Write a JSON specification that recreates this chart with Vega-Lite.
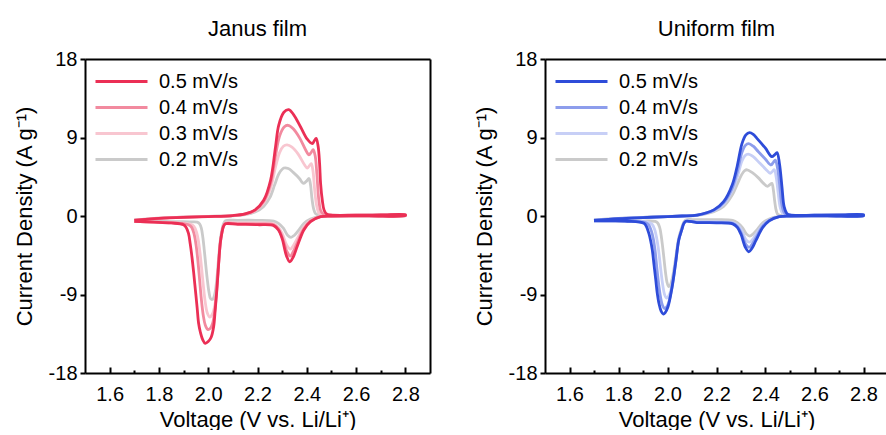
{
"$schema":"https://vega.github.io/schema/vega-lite/v6.json",
"padding":{"left":13,"top":18,"right":0,"bottom":0},
"spacing":43,
"config":{
 "view":{"stroke":null},
 "font":"Liberation Sans",
 "axis":{"domainColor":"black","domainWidth":2,"tickColor":"black","tickWidth":2,"labelColor":"black","labelFont":"Liberation Sans","labelFontSize":20,"titleFont":"Liberation Sans","titleFontSize":22,"titleFontWeight":"normal","titleColor":"black","grid":false,"labelFlush":false,"labelOverlap":false},
 "title":{"font":"Liberation Sans","fontSize":22,"fontWeight":"normal","color":"black","anchor":"middle","frame":"group","offset":8},
 "legend":{"orient":"top-left","offset":11,"padding":0,"title":null,"symbolType":"M-1.2,0H4.0","symbolSize":400,"symbolStrokeWidth":3,"labelFontSize":20,"labelFont":"Liberation Sans","labelColor":"black","rowPadding":4,"labelOffset":40}
},
"data":{"values":[
{"p":"J","r":"0.2 mV/s","k":0,"v":1.70,"i":-0.45},{"p":"J","r":"0.2 mV/s","k":1,"v":1.80,"i":-0.25},{"p":"J","r":"0.2 mV/s","k":2,"v":1.90,"i":-0.12},{"p":"J","r":"0.2 mV/s","k":3,"v":2.00,"i":-0.05},{"p":"J","r":"0.2 mV/s","k":4,"v":2.10,"i":0.03},{"p":"J","r":"0.2 mV/s","k":5,"v":2.15,"i":0.15},{"p":"J","r":"0.2 mV/s","k":6,"v":2.19,"i":0.45},{"p":"J","r":"0.2 mV/s","k":7,"v":2.225,"i":1.1},{"p":"J","r":"0.2 mV/s","k":8,"v":2.25,"i":2.1},{"p":"J","r":"0.2 mV/s","k":9,"v":2.27,"i":3.6},{"p":"J","r":"0.2 mV/s","k":10,"v":2.288,"i":4.9},{"p":"J","r":"0.2 mV/s","k":11,"v":2.307,"i":5.5},{"p":"J","r":"0.2 mV/s","k":12,"v":2.325,"i":5.45},{"p":"J","r":"0.2 mV/s","k":13,"v":2.345,"i":5.0},{"p":"J","r":"0.2 mV/s","k":14,"v":2.37,"i":4.3},{"p":"J","r":"0.2 mV/s","k":15,"v":2.38,"i":3.9},{"p":"J","r":"0.2 mV/s","k":16,"v":2.388,"i":3.75},{"p":"J","r":"0.2 mV/s","k":17,"v":2.399,"i":4.0},{"p":"J","r":"0.2 mV/s","k":18,"v":2.409,"i":4.3},{"p":"J","r":"0.2 mV/s","k":19,"v":2.415,"i":3.6},{"p":"J","r":"0.2 mV/s","k":20,"v":2.421,"i":2.0},{"p":"J","r":"0.2 mV/s","k":21,"v":2.428,"i":0.8},{"p":"J","r":"0.2 mV/s","k":22,"v":2.436,"i":0.25},{"p":"J","r":"0.2 mV/s","k":23,"v":2.45,"i":0.1},{"p":"J","r":"0.2 mV/s","k":24,"v":2.6,"i":0.08},{"p":"J","r":"0.2 mV/s","k":25,"v":2.7,"i":0.1},{"p":"J","r":"0.2 mV/s","k":26,"v":2.8,"i":0.12},
{"p":"J","r":"0.2 mV/s","k":27,"v":2.8,"i":0.04},{"p":"J","r":"0.2 mV/s","k":28,"v":2.65,"i":0.02},{"p":"J","r":"0.2 mV/s","k":29,"v":2.5,"i":0.0},{"p":"J","r":"0.2 mV/s","k":30,"v":2.456,"i":-0.05},{"p":"J","r":"0.2 mV/s","k":31,"v":2.415,"i":-0.35},{"p":"J","r":"0.2 mV/s","k":32,"v":2.388,"i":-0.85},{"p":"J","r":"0.2 mV/s","k":33,"v":2.365,"i":-1.7},{"p":"J","r":"0.2 mV/s","k":34,"v":2.35,"i":-2.2},{"p":"J","r":"0.2 mV/s","k":35,"v":2.336,"i":-2.45},{"p":"J","r":"0.2 mV/s","k":36,"v":2.322,"i":-2.2},{"p":"J","r":"0.2 mV/s","k":37,"v":2.305,"i":-1.4},{"p":"J","r":"0.2 mV/s","k":38,"v":2.285,"i":-0.85},{"p":"J","r":"0.2 mV/s","k":39,"v":2.266,"i":-0.6},{"p":"J","r":"0.2 mV/s","k":40,"v":2.2,"i":-0.5},{"p":"J","r":"0.2 mV/s","k":41,"v":2.12,"i":-0.5},{"p":"J","r":"0.2 mV/s","k":42,"v":2.07,"i":-0.55},{"p":"J","r":"0.2 mV/s","k":43,"v":2.062,"i":-0.9},{"p":"J","r":"0.2 mV/s","k":44,"v":2.055,"i":-1.7},{"p":"J","r":"0.2 mV/s","k":45,"v":2.049,"i":-2.8},{"p":"J","r":"0.2 mV/s","k":46,"v":2.042,"i":-4.9},{"p":"J","r":"0.2 mV/s","k":47,"v":2.035,"i":-7.2},{"p":"J","r":"0.2 mV/s","k":48,"v":2.027,"i":-8.9},{"p":"J","r":"0.2 mV/s","k":49,"v":2.018,"i":-9.55},{"p":"J","r":"0.2 mV/s","k":50,"v":2.010,"i":-9.5},{"p":"J","r":"0.2 mV/s","k":51,"v":2.003,"i":-8.7},{"p":"J","r":"0.2 mV/s","k":52,"v":1.996,"i":-7.2},{"p":"J","r":"0.2 mV/s","k":53,"v":1.99,"i":-5.6},{"p":"J","r":"0.2 mV/s","k":54,"v":1.984,"i":-3.9},{"p":"J","r":"0.2 mV/s","k":55,"v":1.978,"i":-2.4},{"p":"J","r":"0.2 mV/s","k":56,"v":1.972,"i":-1.4},{"p":"J","r":"0.2 mV/s","k":57,"v":1.965,"i":-0.9},{"p":"J","r":"0.2 mV/s","k":58,"v":1.955,"i":-0.7},{"p":"J","r":"0.2 mV/s","k":59,"v":1.93,"i":-0.68},{"p":"J","r":"0.2 mV/s","k":60,"v":1.90,"i":-0.66},{"p":"J","r":"0.2 mV/s","k":61,"v":1.85,"i":-0.64},{"p":"J","r":"0.2 mV/s","k":62,"v":1.78,"i":-0.6},{"p":"J","r":"0.2 mV/s","k":63,"v":1.70,"i":-0.56},

{"p":"J","r":"0.3 mV/s","k":0,"v":1.70,"i":-0.47},{"p":"J","r":"0.3 mV/s","k":1,"v":1.80,"i":-0.26},{"p":"J","r":"0.3 mV/s","k":2,"v":1.90,"i":-0.13},{"p":"J","r":"0.3 mV/s","k":3,"v":2.00,"i":-0.05},{"p":"J","r":"0.3 mV/s","k":4,"v":2.10,"i":0.05},{"p":"J","r":"0.3 mV/s","k":5,"v":2.15,"i":0.22},{"p":"J","r":"0.3 mV/s","k":6,"v":2.19,"i":0.6},{"p":"J","r":"0.3 mV/s","k":7,"v":2.225,"i":1.5},{"p":"J","r":"0.3 mV/s","k":8,"v":2.253,"i":3.2},{"p":"J","r":"0.3 mV/s","k":9,"v":2.273,"i":5.6},{"p":"J","r":"0.3 mV/s","k":10,"v":2.29,"i":7.3},{"p":"J","r":"0.3 mV/s","k":11,"v":2.305,"i":8.0},{"p":"J","r":"0.3 mV/s","k":12,"v":2.32,"i":8.15},{"p":"J","r":"0.3 mV/s","k":13,"v":2.34,"i":7.9},{"p":"J","r":"0.3 mV/s","k":14,"v":2.365,"i":7.1},{"p":"J","r":"0.3 mV/s","k":15,"v":2.39,"i":5.9},{"p":"J","r":"0.3 mV/s","k":16,"v":2.402,"i":5.5},{"p":"J","r":"0.3 mV/s","k":17,"v":2.41,"i":5.75},{"p":"J","r":"0.3 mV/s","k":18,"v":2.418,"i":6.0},{"p":"J","r":"0.3 mV/s","k":19,"v":2.425,"i":5.2},{"p":"J","r":"0.3 mV/s","k":20,"v":2.432,"i":3.0},{"p":"J","r":"0.3 mV/s","k":21,"v":2.44,"i":1.2},{"p":"J","r":"0.3 mV/s","k":22,"v":2.45,"i":0.3},{"p":"J","r":"0.3 mV/s","k":23,"v":2.466,"i":0.12},{"p":"J","r":"0.3 mV/s","k":24,"v":2.6,"i":0.1},{"p":"J","r":"0.3 mV/s","k":25,"v":2.7,"i":0.11},{"p":"J","r":"0.3 mV/s","k":26,"v":2.8,"i":0.13},
{"p":"J","r":"0.3 mV/s","k":27,"v":2.8,"i":0.04},{"p":"J","r":"0.3 mV/s","k":28,"v":2.65,"i":0.02},{"p":"J","r":"0.3 mV/s","k":29,"v":2.5,"i":0.0},{"p":"J","r":"0.3 mV/s","k":30,"v":2.456,"i":-0.07},{"p":"J","r":"0.3 mV/s","k":31,"v":2.415,"i":-0.5},{"p":"J","r":"0.3 mV/s","k":32,"v":2.388,"i":-1.25},{"p":"J","r":"0.3 mV/s","k":33,"v":2.361,"i":-2.6},{"p":"J","r":"0.3 mV/s","k":34,"v":2.345,"i":-3.4},{"p":"J","r":"0.3 mV/s","k":35,"v":2.334,"i":-3.8},{"p":"J","r":"0.3 mV/s","k":36,"v":2.32,"i":-3.4},{"p":"J","r":"0.3 mV/s","k":37,"v":2.30,"i":-2.0},{"p":"J","r":"0.3 mV/s","k":38,"v":2.285,"i":-1.3},{"p":"J","r":"0.3 mV/s","k":39,"v":2.266,"i":-0.9},{"p":"J","r":"0.3 mV/s","k":40,"v":2.2,"i":-0.8},{"p":"J","r":"0.3 mV/s","k":41,"v":2.12,"i":-0.8},{"p":"J","r":"0.3 mV/s","k":42,"v":2.07,"i":-0.8},{"p":"J","r":"0.3 mV/s","k":43,"v":2.062,"i":-1.1},{"p":"J","r":"0.3 mV/s","k":44,"v":2.055,"i":-2.0},{"p":"J","r":"0.3 mV/s","k":45,"v":2.049,"i":-3.1},{"p":"J","r":"0.3 mV/s","k":46,"v":2.042,"i":-5.5},{"p":"J","r":"0.3 mV/s","k":47,"v":2.035,"i":-8.0},{"p":"J","r":"0.3 mV/s","k":48,"v":2.027,"i":-10.2},{"p":"J","r":"0.3 mV/s","k":49,"v":2.016,"i":-11.3},{"p":"J","r":"0.3 mV/s","k":50,"v":2.006,"i":-11.6},{"p":"J","r":"0.3 mV/s","k":51,"v":1.996,"i":-11.1},{"p":"J","r":"0.3 mV/s","k":52,"v":1.988,"i":-9.9},{"p":"J","r":"0.3 mV/s","k":53,"v":1.981,"i":-8.2},{"p":"J","r":"0.3 mV/s","k":54,"v":1.974,"i":-6.2},{"p":"J","r":"0.3 mV/s","k":55,"v":1.967,"i":-4.3},{"p":"J","r":"0.3 mV/s","k":56,"v":1.96,"i":-2.8},{"p":"J","r":"0.3 mV/s","k":57,"v":1.952,"i":-1.8},{"p":"J","r":"0.3 mV/s","k":58,"v":1.942,"i":-1.2},{"p":"J","r":"0.3 mV/s","k":59,"v":1.93,"i":-0.95},{"p":"J","r":"0.3 mV/s","k":60,"v":1.90,"i":-0.82},{"p":"J","r":"0.3 mV/s","k":61,"v":1.85,"i":-0.74},{"p":"J","r":"0.3 mV/s","k":62,"v":1.78,"i":-0.68},{"p":"J","r":"0.3 mV/s","k":63,"v":1.70,"i":-0.6},

{"p":"J","r":"0.4 mV/s","k":0,"v":1.70,"i":-0.48},{"p":"J","r":"0.4 mV/s","k":1,"v":1.80,"i":-0.27},{"p":"J","r":"0.4 mV/s","k":2,"v":1.90,"i":-0.14},{"p":"J","r":"0.4 mV/s","k":3,"v":2.00,"i":-0.06},{"p":"J","r":"0.4 mV/s","k":4,"v":2.10,"i":0.05},{"p":"J","r":"0.4 mV/s","k":5,"v":2.15,"i":0.24},{"p":"J","r":"0.4 mV/s","k":6,"v":2.19,"i":0.65},{"p":"J","r":"0.4 mV/s","k":7,"v":2.225,"i":1.65},{"p":"J","r":"0.4 mV/s","k":8,"v":2.253,"i":3.7},{"p":"J","r":"0.4 mV/s","k":9,"v":2.273,"i":6.9},{"p":"J","r":"0.4 mV/s","k":10,"v":2.29,"i":9.2},{"p":"J","r":"0.4 mV/s","k":11,"v":2.308,"i":10.2},{"p":"J","r":"0.4 mV/s","k":12,"v":2.324,"i":10.4},{"p":"J","r":"0.4 mV/s","k":13,"v":2.345,"i":10.0},{"p":"J","r":"0.4 mV/s","k":14,"v":2.372,"i":8.9},{"p":"J","r":"0.4 mV/s","k":15,"v":2.395,"i":7.6},{"p":"J","r":"0.4 mV/s","k":16,"v":2.409,"i":7.0},{"p":"J","r":"0.4 mV/s","k":17,"v":2.418,"i":7.3},{"p":"J","r":"0.4 mV/s","k":18,"v":2.426,"i":7.6},{"p":"J","r":"0.4 mV/s","k":19,"v":2.434,"i":6.9},{"p":"J","r":"0.4 mV/s","k":20,"v":2.441,"i":4.8},{"p":"J","r":"0.4 mV/s","k":21,"v":2.449,"i":1.8},{"p":"J","r":"0.4 mV/s","k":22,"v":2.458,"i":0.5},{"p":"J","r":"0.4 mV/s","k":23,"v":2.472,"i":0.15},{"p":"J","r":"0.4 mV/s","k":24,"v":2.6,"i":0.1},{"p":"J","r":"0.4 mV/s","k":25,"v":2.7,"i":0.12},{"p":"J","r":"0.4 mV/s","k":26,"v":2.8,"i":0.14},
{"p":"J","r":"0.4 mV/s","k":27,"v":2.8,"i":0.05},{"p":"J","r":"0.4 mV/s","k":28,"v":2.65,"i":0.02},{"p":"J","r":"0.4 mV/s","k":29,"v":2.5,"i":0.0},{"p":"J","r":"0.4 mV/s","k":30,"v":2.456,"i":-0.08},{"p":"J","r":"0.4 mV/s","k":31,"v":2.415,"i":-0.6},{"p":"J","r":"0.4 mV/s","k":32,"v":2.388,"i":-1.45},{"p":"J","r":"0.4 mV/s","k":33,"v":2.361,"i":-3.1},{"p":"J","r":"0.4 mV/s","k":34,"v":2.345,"i":-4.1},{"p":"J","r":"0.4 mV/s","k":35,"v":2.333,"i":-4.6},{"p":"J","r":"0.4 mV/s","k":36,"v":2.32,"i":-4.1},{"p":"J","r":"0.4 mV/s","k":37,"v":2.30,"i":-2.4},{"p":"J","r":"0.4 mV/s","k":38,"v":2.285,"i":-1.5},{"p":"J","r":"0.4 mV/s","k":39,"v":2.266,"i":-1.0},{"p":"J","r":"0.4 mV/s","k":40,"v":2.2,"i":-0.9},{"p":"J","r":"0.4 mV/s","k":41,"v":2.12,"i":-0.88},{"p":"J","r":"0.4 mV/s","k":42,"v":2.07,"i":-0.85},{"p":"J","r":"0.4 mV/s","k":43,"v":2.062,"i":-1.15},{"p":"J","r":"0.4 mV/s","k":44,"v":2.055,"i":-2.0},{"p":"J","r":"0.4 mV/s","k":45,"v":2.049,"i":-3.1},{"p":"J","r":"0.4 mV/s","k":46,"v":2.042,"i":-5.6},{"p":"J","r":"0.4 mV/s","k":47,"v":2.035,"i":-8.3},{"p":"J","r":"0.4 mV/s","k":48,"v":2.027,"i":-10.8},{"p":"J","r":"0.4 mV/s","k":49,"v":2.018,"i":-12.3},{"p":"J","r":"0.4 mV/s","k":50,"v":2.008,"i":-12.9},{"p":"J","r":"0.4 mV/s","k":51,"v":1.998,"i":-13.0},{"p":"J","r":"0.4 mV/s","k":52,"v":1.988,"i":-12.5},{"p":"J","r":"0.4 mV/s","k":53,"v":1.98,"i":-11.4},{"p":"J","r":"0.4 mV/s","k":54,"v":1.972,"i":-9.5},{"p":"J","r":"0.4 mV/s","k":55,"v":1.965,"i":-7.3},{"p":"J","r":"0.4 mV/s","k":56,"v":1.958,"i":-5.1},{"p":"J","r":"0.4 mV/s","k":57,"v":1.951,"i":-3.4},{"p":"J","r":"0.4 mV/s","k":58,"v":1.943,"i":-2.1},{"p":"J","r":"0.4 mV/s","k":59,"v":1.933,"i":-1.3},{"p":"J","r":"0.4 mV/s","k":60,"v":1.92,"i":-1.0},{"p":"J","r":"0.4 mV/s","k":61,"v":1.90,"i":-0.88},{"p":"J","r":"0.4 mV/s","k":62,"v":1.85,"i":-0.78},{"p":"J","r":"0.4 mV/s","k":63,"v":1.78,"i":-0.7},{"p":"J","r":"0.4 mV/s","k":64,"v":1.70,"i":-0.62},

{"p":"J","r":"0.5 mV/s","k":0,"v":1.70,"i":-0.5},{"p":"J","r":"0.5 mV/s","k":1,"v":1.80,"i":-0.28},{"p":"J","r":"0.5 mV/s","k":2,"v":1.90,"i":-0.15},{"p":"J","r":"0.5 mV/s","k":3,"v":2.00,"i":-0.07},{"p":"J","r":"0.5 mV/s","k":4,"v":2.10,"i":0.05},{"p":"J","r":"0.5 mV/s","k":5,"v":2.15,"i":0.25},{"p":"J","r":"0.5 mV/s","k":6,"v":2.19,"i":0.7},{"p":"J","r":"0.5 mV/s","k":7,"v":2.225,"i":1.8},{"p":"J","r":"0.5 mV/s","k":8,"v":2.253,"i":4.1},{"p":"J","r":"0.5 mV/s","k":9,"v":2.273,"i":7.9},{"p":"J","r":"0.5 mV/s","k":10,"v":2.286,"i":10.4},{"p":"J","r":"0.5 mV/s","k":11,"v":2.307,"i":11.9},{"p":"J","r":"0.5 mV/s","k":12,"v":2.327,"i":12.2},{"p":"J","r":"0.5 mV/s","k":13,"v":2.347,"i":11.6},{"p":"J","r":"0.5 mV/s","k":14,"v":2.375,"i":10.2},{"p":"J","r":"0.5 mV/s","k":15,"v":2.402,"i":8.8},{"p":"J","r":"0.5 mV/s","k":16,"v":2.422,"i":8.3},{"p":"J","r":"0.5 mV/s","k":17,"v":2.43,"i":8.6},{"p":"J","r":"0.5 mV/s","k":18,"v":2.438,"i":8.9},{"p":"J","r":"0.5 mV/s","k":19,"v":2.446,"i":8.0},{"p":"J","r":"0.5 mV/s","k":20,"v":2.452,"i":6.0},{"p":"J","r":"0.5 mV/s","k":21,"v":2.456,"i":3.75},{"p":"J","r":"0.5 mV/s","k":22,"v":2.463,"i":1.8},{"p":"J","r":"0.5 mV/s","k":23,"v":2.47,"i":0.7},{"p":"J","r":"0.5 mV/s","k":24,"v":2.48,"i":0.25},{"p":"J","r":"0.5 mV/s","k":25,"v":2.497,"i":0.12},{"p":"J","r":"0.5 mV/s","k":26,"v":2.6,"i":0.1},{"p":"J","r":"0.5 mV/s","k":27,"v":2.7,"i":0.12},{"p":"J","r":"0.5 mV/s","k":28,"v":2.8,"i":0.15},
{"p":"J","r":"0.5 mV/s","k":29,"v":2.8,"i":0.05},{"p":"J","r":"0.5 mV/s","k":30,"v":2.65,"i":0.02},{"p":"J","r":"0.5 mV/s","k":31,"v":2.5,"i":0.0},{"p":"J","r":"0.5 mV/s","k":32,"v":2.456,"i":-0.08},{"p":"J","r":"0.5 mV/s","k":33,"v":2.415,"i":-0.65},{"p":"J","r":"0.5 mV/s","k":34,"v":2.388,"i":-1.6},{"p":"J","r":"0.5 mV/s","k":35,"v":2.361,"i":-3.5},{"p":"J","r":"0.5 mV/s","k":36,"v":2.345,"i":-4.7},{"p":"J","r":"0.5 mV/s","k":37,"v":2.331,"i":-5.25},{"p":"J","r":"0.5 mV/s","k":38,"v":2.318,"i":-4.6},{"p":"J","r":"0.5 mV/s","k":39,"v":2.30,"i":-2.6},{"p":"J","r":"0.5 mV/s","k":40,"v":2.285,"i":-1.6},{"p":"J","r":"0.5 mV/s","k":41,"v":2.266,"i":-1.1},{"p":"J","r":"0.5 mV/s","k":42,"v":2.2,"i":-1.0},{"p":"J","r":"0.5 mV/s","k":43,"v":2.12,"i":-0.95},{"p":"J","r":"0.5 mV/s","k":44,"v":2.07,"i":-0.9},{"p":"J","r":"0.5 mV/s","k":45,"v":2.062,"i":-1.2},{"p":"J","r":"0.5 mV/s","k":46,"v":2.055,"i":-2.0},{"p":"J","r":"0.5 mV/s","k":47,"v":2.049,"i":-3.1},{"p":"J","r":"0.5 mV/s","k":48,"v":2.042,"i":-5.6},{"p":"J","r":"0.5 mV/s","k":49,"v":2.035,"i":-8.5},{"p":"J","r":"0.5 mV/s","k":50,"v":2.028,"i":-10.9},{"p":"J","r":"0.5 mV/s","k":51,"v":2.022,"i":-12.7},{"p":"J","r":"0.5 mV/s","k":52,"v":2.012,"i":-13.9},{"p":"J","r":"0.5 mV/s","k":53,"v":2.0,"i":-14.4},{"p":"J","r":"0.5 mV/s","k":54,"v":1.988,"i":-14.6},{"p":"J","r":"0.5 mV/s","k":55,"v":1.978,"i":-14.2},{"p":"J","r":"0.5 mV/s","k":56,"v":1.968,"i":-13.3},{"p":"J","r":"0.5 mV/s","k":57,"v":1.961,"i":-12.3},{"p":"J","r":"0.5 mV/s","k":58,"v":1.955,"i":-10.5},{"p":"J","r":"0.5 mV/s","k":59,"v":1.948,"i":-8.5},{"p":"J","r":"0.5 mV/s","k":60,"v":1.941,"i":-6.5},{"p":"J","r":"0.5 mV/s","k":61,"v":1.934,"i":-4.7},{"p":"J","r":"0.5 mV/s","k":62,"v":1.927,"i":-3.2},{"p":"J","r":"0.5 mV/s","k":63,"v":1.92,"i":-2.0},{"p":"J","r":"0.5 mV/s","k":64,"v":1.91,"i":-1.3},{"p":"J","r":"0.5 mV/s","k":65,"v":1.90,"i":-1.0},{"p":"J","r":"0.5 mV/s","k":66,"v":1.85,"i":-0.8},{"p":"J","r":"0.5 mV/s","k":67,"v":1.78,"i":-0.7},{"p":"J","r":"0.5 mV/s","k":68,"v":1.70,"i":-0.62},

{"p":"U","r":"0.2 mV/s","k":0,"v":1.70,"i":-0.45},{"p":"U","r":"0.2 mV/s","k":1,"v":1.80,"i":-0.27},{"p":"U","r":"0.2 mV/s","k":2,"v":1.90,"i":-0.15},{"p":"U","r":"0.2 mV/s","k":3,"v":2.00,"i":-0.06},{"p":"U","r":"0.2 mV/s","k":4,"v":2.06,"i":0.0},{"p":"U","r":"0.2 mV/s","k":5,"v":2.121,"i":0.08},{"p":"U","r":"0.2 mV/s","k":6,"v":2.189,"i":0.5},{"p":"U","r":"0.2 mV/s","k":7,"v":2.229,"i":1.1},{"p":"U","r":"0.2 mV/s","k":8,"v":2.264,"i":2.4},{"p":"U","r":"0.2 mV/s","k":9,"v":2.284,"i":3.6},{"p":"U","r":"0.2 mV/s","k":10,"v":2.304,"i":4.8},{"p":"U","r":"0.2 mV/s","k":11,"v":2.315,"i":5.2},{"p":"U","r":"0.2 mV/s","k":12,"v":2.325,"i":5.3},{"p":"U","r":"0.2 mV/s","k":13,"v":2.345,"i":5.0},{"p":"U","r":"0.2 mV/s","k":14,"v":2.37,"i":4.4},{"p":"U","r":"0.2 mV/s","k":15,"v":2.39,"i":3.8},{"p":"U","r":"0.2 mV/s","k":16,"v":2.408,"i":3.4},{"p":"U","r":"0.2 mV/s","k":17,"v":2.418,"i":3.6},{"p":"U","r":"0.2 mV/s","k":18,"v":2.426,"i":3.75},{"p":"U","r":"0.2 mV/s","k":19,"v":2.432,"i":3.0},{"p":"U","r":"0.2 mV/s","k":20,"v":2.438,"i":1.6},{"p":"U","r":"0.2 mV/s","k":21,"v":2.444,"i":0.6},{"p":"U","r":"0.2 mV/s","k":22,"v":2.452,"i":0.15},{"p":"U","r":"0.2 mV/s","k":23,"v":2.5,"i":0.08},{"p":"U","r":"0.2 mV/s","k":24,"v":2.6,"i":0.08},{"p":"U","r":"0.2 mV/s","k":25,"v":2.7,"i":0.09},{"p":"U","r":"0.2 mV/s","k":26,"v":2.8,"i":0.11},
{"p":"U","r":"0.2 mV/s","k":27,"v":2.8,"i":0.04},{"p":"U","r":"0.2 mV/s","k":28,"v":2.65,"i":0.02},{"p":"U","r":"0.2 mV/s","k":29,"v":2.5,"i":0.0},{"p":"U","r":"0.2 mV/s","k":30,"v":2.456,"i":-0.05},{"p":"U","r":"0.2 mV/s","k":31,"v":2.415,"i":-0.35},{"p":"U","r":"0.2 mV/s","k":32,"v":2.388,"i":-0.8},{"p":"U","r":"0.2 mV/s","k":33,"v":2.365,"i":-1.6},{"p":"U","r":"0.2 mV/s","k":34,"v":2.35,"i":-2.05},{"p":"U","r":"0.2 mV/s","k":35,"v":2.336,"i":-2.3},{"p":"U","r":"0.2 mV/s","k":36,"v":2.322,"i":-2.05},{"p":"U","r":"0.2 mV/s","k":37,"v":2.305,"i":-1.3},{"p":"U","r":"0.2 mV/s","k":38,"v":2.285,"i":-0.75},{"p":"U","r":"0.2 mV/s","k":39,"v":2.266,"i":-0.5},{"p":"U","r":"0.2 mV/s","k":40,"v":2.2,"i":-0.42},{"p":"U","r":"0.2 mV/s","k":41,"v":2.12,"i":-0.42},{"p":"U","r":"0.2 mV/s","k":42,"v":2.075,"i":-0.45},{"p":"U","r":"0.2 mV/s","k":43,"v":2.066,"i":-0.75},{"p":"U","r":"0.2 mV/s","k":44,"v":2.058,"i":-1.35},{"p":"U","r":"0.2 mV/s","k":45,"v":2.046,"i":-2.5},{"p":"U","r":"0.2 mV/s","k":46,"v":2.033,"i":-4.9},{"p":"U","r":"0.2 mV/s","k":47,"v":2.02,"i":-7.1},{"p":"U","r":"0.2 mV/s","k":48,"v":2.012,"i":-7.9},{"p":"U","r":"0.2 mV/s","k":49,"v":2.005,"i":-8.1},{"p":"U","r":"0.2 mV/s","k":50,"v":1.998,"i":-7.6},{"p":"U","r":"0.2 mV/s","k":51,"v":1.992,"i":-6.5},{"p":"U","r":"0.2 mV/s","k":52,"v":1.986,"i":-5.0},{"p":"U","r":"0.2 mV/s","k":53,"v":1.98,"i":-3.5},{"p":"U","r":"0.2 mV/s","k":54,"v":1.974,"i":-2.2},{"p":"U","r":"0.2 mV/s","k":55,"v":1.968,"i":-1.3},{"p":"U","r":"0.2 mV/s","k":56,"v":1.96,"i":-0.8},{"p":"U","r":"0.2 mV/s","k":57,"v":1.95,"i":-0.62},{"p":"U","r":"0.2 mV/s","k":58,"v":1.9,"i":-0.58},{"p":"U","r":"0.2 mV/s","k":59,"v":1.85,"i":-0.56},{"p":"U","r":"0.2 mV/s","k":60,"v":1.77,"i":-0.54},{"p":"U","r":"0.2 mV/s","k":61,"v":1.70,"i":-0.52},

{"p":"U","r":"0.3 mV/s","k":0,"v":1.70,"i":-0.47},{"p":"U","r":"0.3 mV/s","k":1,"v":1.80,"i":-0.28},{"p":"U","r":"0.3 mV/s","k":2,"v":1.90,"i":-0.16},{"p":"U","r":"0.3 mV/s","k":3,"v":2.00,"i":-0.07},{"p":"U","r":"0.3 mV/s","k":4,"v":2.06,"i":0.0},{"p":"U","r":"0.3 mV/s","k":5,"v":2.121,"i":0.09},{"p":"U","r":"0.3 mV/s","k":6,"v":2.189,"i":0.6},{"p":"U","r":"0.3 mV/s","k":7,"v":2.229,"i":1.35},{"p":"U","r":"0.3 mV/s","k":8,"v":2.264,"i":2.9},{"p":"U","r":"0.3 mV/s","k":9,"v":2.284,"i":4.4},{"p":"U","r":"0.3 mV/s","k":10,"v":2.304,"i":6.3},{"p":"U","r":"0.3 mV/s","k":11,"v":2.316,"i":6.9},{"p":"U","r":"0.3 mV/s","k":12,"v":2.329,"i":7.1},{"p":"U","r":"0.3 mV/s","k":13,"v":2.35,"i":6.8},{"p":"U","r":"0.3 mV/s","k":14,"v":2.375,"i":6.1},{"p":"U","r":"0.3 mV/s","k":15,"v":2.4,"i":5.4},{"p":"U","r":"0.3 mV/s","k":16,"v":2.419,"i":4.9},{"p":"U","r":"0.3 mV/s","k":17,"v":2.428,"i":5.1},{"p":"U","r":"0.3 mV/s","k":18,"v":2.436,"i":5.3},{"p":"U","r":"0.3 mV/s","k":19,"v":2.444,"i":4.4},{"p":"U","r":"0.3 mV/s","k":20,"v":2.452,"i":2.6},{"p":"U","r":"0.3 mV/s","k":21,"v":2.46,"i":1.0},{"p":"U","r":"0.3 mV/s","k":22,"v":2.47,"i":0.3},{"p":"U","r":"0.3 mV/s","k":23,"v":2.49,"i":0.1},{"p":"U","r":"0.3 mV/s","k":24,"v":2.6,"i":0.09},{"p":"U","r":"0.3 mV/s","k":25,"v":2.7,"i":0.1},{"p":"U","r":"0.3 mV/s","k":26,"v":2.8,"i":0.12},
{"p":"U","r":"0.3 mV/s","k":27,"v":2.8,"i":0.04},{"p":"U","r":"0.3 mV/s","k":28,"v":2.65,"i":0.02},{"p":"U","r":"0.3 mV/s","k":29,"v":2.5,"i":0.0},{"p":"U","r":"0.3 mV/s","k":30,"v":2.456,"i":-0.06},{"p":"U","r":"0.3 mV/s","k":31,"v":2.415,"i":-0.45},{"p":"U","r":"0.3 mV/s","k":32,"v":2.388,"i":-1.05},{"p":"U","r":"0.3 mV/s","k":33,"v":2.361,"i":-2.1},{"p":"U","r":"0.3 mV/s","k":34,"v":2.347,"i":-2.7},{"p":"U","r":"0.3 mV/s","k":35,"v":2.334,"i":-3.0},{"p":"U","r":"0.3 mV/s","k":36,"v":2.32,"i":-2.7},{"p":"U","r":"0.3 mV/s","k":37,"v":2.302,"i":-1.6},{"p":"U","r":"0.3 mV/s","k":38,"v":2.285,"i":-1.0},{"p":"U","r":"0.3 mV/s","k":39,"v":2.266,"i":-0.75},{"p":"U","r":"0.3 mV/s","k":40,"v":2.2,"i":-0.66},{"p":"U","r":"0.3 mV/s","k":41,"v":2.12,"i":-0.65},{"p":"U","r":"0.3 mV/s","k":42,"v":2.075,"i":-0.55},{"p":"U","r":"0.3 mV/s","k":43,"v":2.066,"i":-0.85},{"p":"U","r":"0.3 mV/s","k":44,"v":2.058,"i":-1.5},{"p":"U","r":"0.3 mV/s","k":45,"v":2.046,"i":-2.7},{"p":"U","r":"0.3 mV/s","k":46,"v":2.033,"i":-5.2},{"p":"U","r":"0.3 mV/s","k":47,"v":2.02,"i":-7.6},{"p":"U","r":"0.3 mV/s","k":48,"v":2.008,"i":-9.0},{"p":"U","r":"0.3 mV/s","k":49,"v":1.996,"i":-9.4},{"p":"U","r":"0.3 mV/s","k":50,"v":1.988,"i":-9.0},{"p":"U","r":"0.3 mV/s","k":51,"v":1.981,"i":-8.0},{"p":"U","r":"0.3 mV/s","k":52,"v":1.974,"i":-6.5},{"p":"U","r":"0.3 mV/s","k":53,"v":1.968,"i":-5.0},{"p":"U","r":"0.3 mV/s","k":54,"v":1.962,"i":-3.6},{"p":"U","r":"0.3 mV/s","k":55,"v":1.955,"i":-2.4},{"p":"U","r":"0.3 mV/s","k":56,"v":1.947,"i":-1.5},{"p":"U","r":"0.3 mV/s","k":57,"v":1.937,"i":-0.95},{"p":"U","r":"0.3 mV/s","k":58,"v":1.92,"i":-0.7},{"p":"U","r":"0.3 mV/s","k":59,"v":1.85,"i":-0.58},{"p":"U","r":"0.3 mV/s","k":60,"v":1.77,"i":-0.55},{"p":"U","r":"0.3 mV/s","k":61,"v":1.70,"i":-0.54},

{"p":"U","r":"0.4 mV/s","k":0,"v":1.70,"i":-0.48},{"p":"U","r":"0.4 mV/s","k":1,"v":1.80,"i":-0.29},{"p":"U","r":"0.4 mV/s","k":2,"v":1.90,"i":-0.17},{"p":"U","r":"0.4 mV/s","k":3,"v":2.00,"i":-0.07},{"p":"U","r":"0.4 mV/s","k":4,"v":2.06,"i":0.0},{"p":"U","r":"0.4 mV/s","k":5,"v":2.121,"i":0.1},{"p":"U","r":"0.4 mV/s","k":6,"v":2.189,"i":0.65},{"p":"U","r":"0.4 mV/s","k":7,"v":2.229,"i":1.5},{"p":"U","r":"0.4 mV/s","k":8,"v":2.264,"i":3.2},{"p":"U","r":"0.4 mV/s","k":9,"v":2.284,"i":5.0},{"p":"U","r":"0.4 mV/s","k":10,"v":2.304,"i":7.3},{"p":"U","r":"0.4 mV/s","k":11,"v":2.318,"i":8.1},{"p":"U","r":"0.4 mV/s","k":12,"v":2.331,"i":8.3},{"p":"U","r":"0.4 mV/s","k":13,"v":2.35,"i":8.0},{"p":"U","r":"0.4 mV/s","k":14,"v":2.37,"i":7.4},{"p":"U","r":"0.4 mV/s","k":15,"v":2.4,"i":6.5},{"p":"U","r":"0.4 mV/s","k":16,"v":2.422,"i":5.85},{"p":"U","r":"0.4 mV/s","k":17,"v":2.432,"i":6.15},{"p":"U","r":"0.4 mV/s","k":18,"v":2.44,"i":6.4},{"p":"U","r":"0.4 mV/s","k":19,"v":2.449,"i":5.5},{"p":"U","r":"0.4 mV/s","k":20,"v":2.458,"i":3.5},{"p":"U","r":"0.4 mV/s","k":21,"v":2.466,"i":1.4},{"p":"U","r":"0.4 mV/s","k":22,"v":2.476,"i":0.4},{"p":"U","r":"0.4 mV/s","k":23,"v":2.49,"i":0.12},{"p":"U","r":"0.4 mV/s","k":24,"v":2.6,"i":0.1},{"p":"U","r":"0.4 mV/s","k":25,"v":2.7,"i":0.11},{"p":"U","r":"0.4 mV/s","k":26,"v":2.8,"i":0.13},
{"p":"U","r":"0.4 mV/s","k":27,"v":2.8,"i":0.04},{"p":"U","r":"0.4 mV/s","k":28,"v":2.65,"i":0.02},{"p":"U","r":"0.4 mV/s","k":29,"v":2.5,"i":0.0},{"p":"U","r":"0.4 mV/s","k":30,"v":2.456,"i":-0.07},{"p":"U","r":"0.4 mV/s","k":31,"v":2.415,"i":-0.5},{"p":"U","r":"0.4 mV/s","k":32,"v":2.388,"i":-1.2},{"p":"U","r":"0.4 mV/s","k":33,"v":2.361,"i":-2.5},{"p":"U","r":"0.4 mV/s","k":34,"v":2.345,"i":-3.25},{"p":"U","r":"0.4 mV/s","k":35,"v":2.333,"i":-3.6},{"p":"U","r":"0.4 mV/s","k":36,"v":2.319,"i":-3.2},{"p":"U","r":"0.4 mV/s","k":37,"v":2.30,"i":-1.9},{"p":"U","r":"0.4 mV/s","k":38,"v":2.285,"i":-1.2},{"p":"U","r":"0.4 mV/s","k":39,"v":2.266,"i":-0.85},{"p":"U","r":"0.4 mV/s","k":40,"v":2.2,"i":-0.74},{"p":"U","r":"0.4 mV/s","k":41,"v":2.12,"i":-0.72},{"p":"U","r":"0.4 mV/s","k":42,"v":2.075,"i":-0.6},{"p":"U","r":"0.4 mV/s","k":43,"v":2.066,"i":-0.9},{"p":"U","r":"0.4 mV/s","k":44,"v":2.058,"i":-1.6},{"p":"U","r":"0.4 mV/s","k":45,"v":2.046,"i":-2.75},{"p":"U","r":"0.4 mV/s","k":46,"v":2.033,"i":-5.4},{"p":"U","r":"0.4 mV/s","k":47,"v":2.02,"i":-7.9},{"p":"U","r":"0.4 mV/s","k":48,"v":2.005,"i":-9.9},{"p":"U","r":"0.4 mV/s","k":49,"v":1.995,"i":-10.5},{"p":"U","r":"0.4 mV/s","k":50,"v":1.988,"i":-10.6},{"p":"U","r":"0.4 mV/s","k":51,"v":1.979,"i":-10.2},{"p":"U","r":"0.4 mV/s","k":52,"v":1.971,"i":-9.2},{"p":"U","r":"0.4 mV/s","k":53,"v":1.963,"i":-7.6},{"p":"U","r":"0.4 mV/s","k":54,"v":1.956,"i":-5.8},{"p":"U","r":"0.4 mV/s","k":55,"v":1.949,"i":-3.9},{"p":"U","r":"0.4 mV/s","k":56,"v":1.942,"i":-2.6},{"p":"U","r":"0.4 mV/s","k":57,"v":1.934,"i":-1.7},{"p":"U","r":"0.4 mV/s","k":58,"v":1.924,"i":-1.05},{"p":"U","r":"0.4 mV/s","k":59,"v":1.91,"i":-0.75},{"p":"U","r":"0.4 mV/s","k":60,"v":1.85,"i":-0.6},{"p":"U","r":"0.4 mV/s","k":61,"v":1.77,"i":-0.56},{"p":"U","r":"0.4 mV/s","k":62,"v":1.70,"i":-0.55},

{"p":"U","r":"0.5 mV/s","k":0,"v":1.70,"i":-0.5},{"p":"U","r":"0.5 mV/s","k":1,"v":1.80,"i":-0.3},{"p":"U","r":"0.5 mV/s","k":2,"v":1.90,"i":-0.18},{"p":"U","r":"0.5 mV/s","k":3,"v":2.00,"i":-0.08},{"p":"U","r":"0.5 mV/s","k":4,"v":2.06,"i":0.0},{"p":"U","r":"0.5 mV/s","k":5,"v":2.121,"i":0.1},{"p":"U","r":"0.5 mV/s","k":6,"v":2.189,"i":0.7},{"p":"U","r":"0.5 mV/s","k":7,"v":2.229,"i":1.64},{"p":"U","r":"0.5 mV/s","k":8,"v":2.264,"i":3.55},{"p":"U","r":"0.5 mV/s","k":9,"v":2.284,"i":5.65},{"p":"U","r":"0.5 mV/s","k":10,"v":2.304,"i":8.3},{"p":"U","r":"0.5 mV/s","k":11,"v":2.32,"i":9.3},{"p":"U","r":"0.5 mV/s","k":12,"v":2.335,"i":9.55},{"p":"U","r":"0.5 mV/s","k":13,"v":2.35,"i":9.35},{"p":"U","r":"0.5 mV/s","k":14,"v":2.365,"i":8.9},{"p":"U","r":"0.5 mV/s","k":15,"v":2.399,"i":7.8},{"p":"U","r":"0.5 mV/s","k":16,"v":2.426,"i":6.8},{"p":"U","r":"0.5 mV/s","k":17,"v":2.437,"i":7.0},{"p":"U","r":"0.5 mV/s","k":18,"v":2.447,"i":7.26},{"p":"U","r":"0.5 mV/s","k":19,"v":2.457,"i":6.0},{"p":"U","r":"0.5 mV/s","k":20,"v":2.467,"i":3.4},{"p":"U","r":"0.5 mV/s","k":21,"v":2.476,"i":1.07},{"p":"U","r":"0.5 mV/s","k":22,"v":2.487,"i":0.3},{"p":"U","r":"0.5 mV/s","k":23,"v":2.5,"i":0.12},{"p":"U","r":"0.5 mV/s","k":24,"v":2.6,"i":0.1},{"p":"U","r":"0.5 mV/s","k":25,"v":2.7,"i":0.12},{"p":"U","r":"0.5 mV/s","k":26,"v":2.8,"i":0.14},
{"p":"U","r":"0.5 mV/s","k":27,"v":2.8,"i":0.04},{"p":"U","r":"0.5 mV/s","k":28,"v":2.65,"i":0.02},{"p":"U","r":"0.5 mV/s","k":29,"v":2.5,"i":0.0},{"p":"U","r":"0.5 mV/s","k":30,"v":2.456,"i":-0.07},{"p":"U","r":"0.5 mV/s","k":31,"v":2.415,"i":-0.55},{"p":"U","r":"0.5 mV/s","k":32,"v":2.388,"i":-1.35},{"p":"U","r":"0.5 mV/s","k":33,"v":2.361,"i":-2.8},{"p":"U","r":"0.5 mV/s","k":34,"v":2.345,"i":-3.7},{"p":"U","r":"0.5 mV/s","k":35,"v":2.332,"i":-4.1},{"p":"U","r":"0.5 mV/s","k":36,"v":2.318,"i":-3.6},{"p":"U","r":"0.5 mV/s","k":37,"v":2.30,"i":-2.1},{"p":"U","r":"0.5 mV/s","k":38,"v":2.285,"i":-1.3},{"p":"U","r":"0.5 mV/s","k":39,"v":2.266,"i":-0.9},{"p":"U","r":"0.5 mV/s","k":40,"v":2.2,"i":-0.78},{"p":"U","r":"0.5 mV/s","k":41,"v":2.12,"i":-0.75},{"p":"U","r":"0.5 mV/s","k":42,"v":2.075,"i":-0.6},{"p":"U","r":"0.5 mV/s","k":43,"v":2.066,"i":-0.9},{"p":"U","r":"0.5 mV/s","k":44,"v":2.058,"i":-1.6},{"p":"U","r":"0.5 mV/s","k":45,"v":2.046,"i":-2.75},{"p":"U","r":"0.5 mV/s","k":46,"v":2.033,"i":-5.4},{"p":"U","r":"0.5 mV/s","k":47,"v":2.019,"i":-8.1},{"p":"U","r":"0.5 mV/s","k":48,"v":2.002,"i":-10.4},{"p":"U","r":"0.5 mV/s","k":49,"v":1.99,"i":-11.1},{"p":"U","r":"0.5 mV/s","k":50,"v":1.983,"i":-11.24},{"p":"U","r":"0.5 mV/s","k":51,"v":1.974,"i":-10.9},{"p":"U","r":"0.5 mV/s","k":52,"v":1.965,"i":-10.0},{"p":"U","r":"0.5 mV/s","k":53,"v":1.958,"i":-8.8},{"p":"U","r":"0.5 mV/s","k":54,"v":1.952,"i":-7.3},{"p":"U","r":"0.5 mV/s","k":55,"v":1.945,"i":-5.6},{"p":"U","r":"0.5 mV/s","k":56,"v":1.938,"i":-3.9},{"p":"U","r":"0.5 mV/s","k":57,"v":1.931,"i":-2.8},{"p":"U","r":"0.5 mV/s","k":58,"v":1.924,"i":-2.0},{"p":"U","r":"0.5 mV/s","k":59,"v":1.914,"i":-1.2},{"p":"U","r":"0.5 mV/s","k":60,"v":1.904,"i":-0.84},{"p":"U","r":"0.5 mV/s","k":61,"v":1.836,"i":-0.6},{"p":"U","r":"0.5 mV/s","k":62,"v":1.77,"i":-0.56},{"p":"U","r":"0.5 mV/s","k":63,"v":1.70,"i":-0.56}
]},
"hconcat":[
{"width":345,"height":314,"title":"Janus film",
 "transform":[{"filter":{"field":"p","equal":"J"}}],
 "layer":[
  {"mark":{"type":"line","strokeWidth":2.8,"interpolate":"catmull-rom"},
   "encoding":{
    "x":{"field":"v","type":"quantitative","scale":{"domain":[1.5,2.9],"nice":false,"zero":false},
      "axis":{"values":[1.6,1.7,1.8,1.9,2.0,2.1,2.2,2.3,2.4,2.5,2.6,2.7,2.8],"labelExpr":"round(datum.value*10)%2==0 ? format(datum.value,'.1f') : ''","tickSize":{"condition":{"test":"round(datum.value*10)%2==0","value":-6},"value":-3},"labelPadding":17,"title":"Voltage (V vs. Li/Li⁺)","titlePadding":2}},
    "y":{"field":"i","type":"quantitative","scale":{"domain":[-18,18],"nice":false},
      "axis":{"values":[-18,-9,0,9,18],"tickSize":5,"labelPadding":3,"labelExpr":"''+datum.value","title":"Current Density (A g⁻¹)","titlePadding":12}},
    "color":{"field":"r","type":"nominal","scale":{"domain":["0.5 mV/s","0.4 mV/s","0.3 mV/s","0.2 mV/s"],"range":["#EB2F55","#F28A9F","#F8C6D0","#CACACA"]}},
    "order":{"field":"k","type":"quantitative"}
   }},
  {"mark":{"type":"point","opacity":0},
   "encoding":{
    "x":{"field":"v","type":"quantitative","axis":{"orient":"top","labels":false,"ticks":false,"title":null}},
    "y":{"field":"i","type":"quantitative","axis":{"orient":"right","labels":false,"ticks":false,"title":null}}
   }}
 ],
 "resolve":{"axis":{"x":"independent","y":"independent"}}
},
{"width":343,"height":314,"title":"Uniform film",
 "transform":[{"filter":{"field":"p","equal":"U"}}],
 "layer":[
  {"mark":{"type":"line","strokeWidth":2.8,"interpolate":"catmull-rom"},
   "encoding":{
    "x":{"field":"v","type":"quantitative","scale":{"domain":[1.5,2.9],"nice":false,"zero":false},
      "axis":{"values":[1.6,1.7,1.8,1.9,2.0,2.1,2.2,2.3,2.4,2.5,2.6,2.7,2.8],"labelExpr":"round(datum.value*10)%2==0 ? format(datum.value,'.1f') : ''","tickSize":{"condition":{"test":"round(datum.value*10)%2==0","value":-6},"value":-3},"labelPadding":17,"title":"Voltage (V vs. Li/Li⁺)","titlePadding":2}},
    "y":{"field":"i","type":"quantitative","scale":{"domain":[-18,18],"nice":false},
      "axis":{"values":[-18,-9,0,9,18],"tickSize":5,"labelPadding":3,"labelExpr":"''+datum.value","title":"Current Density (A g⁻¹)","titlePadding":12}},
    "color":{"field":"r","type":"nominal","scale":{"domain":["0.5 mV/s","0.4 mV/s","0.3 mV/s","0.2 mV/s"],"range":["#2E4CD9","#8D9DEC","#C7CFF6","#CACACA"]}},
    "order":{"field":"k","type":"quantitative"}
   }},
  {"mark":{"type":"point","opacity":0},
   "encoding":{
    "x":{"field":"v","type":"quantitative","axis":{"orient":"top","labels":false,"ticks":false,"title":null}},
    "y":{"field":"i","type":"quantitative","axis":null}
   }}
 ],
 "resolve":{"axis":{"x":"independent","y":"independent"}}
}
],
"resolve":{"scale":{"color":"independent"}}
}
